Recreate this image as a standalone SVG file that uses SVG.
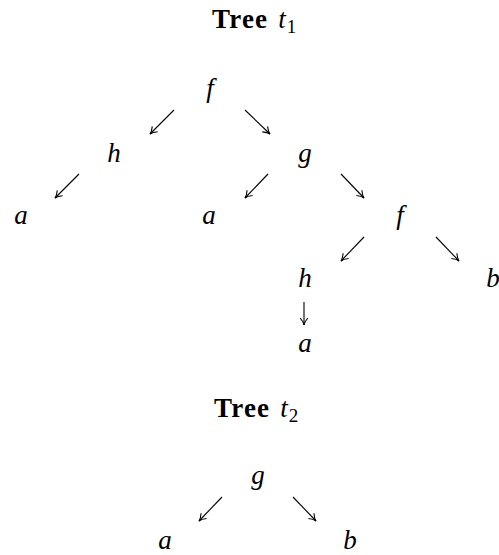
<svg xmlns="http://www.w3.org/2000/svg" width="499" height="555" viewBox="0 0 499 555">
<style>
.title{font-family:"Liberation Serif",serif;font-size:27px;font-weight:bold;fill:#000;letter-spacing:1.2px}
.it{font-style:italic;font-weight:normal;letter-spacing:0}
.sub{font-size:19px;font-weight:normal;letter-spacing:0}
.n{font-family:"Liberation Serif",serif;font-size:27px;font-style:italic;fill:#000;text-anchor:middle}
.e{stroke:#000;stroke-width:1.1;fill:none;marker-end:url(#ah)}
</style>
<defs>
<marker id="ah" viewBox="-8 -5 10 10" refX="0" refY="0" markerWidth="10" markerHeight="10" markerUnits="userSpaceOnUse" orient="auto">
<path d="M-7,-3.8 Q-3,-0.5 0,0 Q-3,0.5 -7,3.8" stroke="#000" stroke-width="1.1" fill="none"/>
</marker>
</defs>
<g id="title1"><text class="title" x="212" y="28">Tree <tspan class="it" dx="2">t</tspan><tspan class="sub" dx="1" dy="5">1</tspan></text></g>
<g id="title2"><text class="title" x="214" y="417">Tree <tspan class="it" dx="2">t</tspan><tspan class="sub" dx="1" dy="5">2</tspan></text></g>
<g id="t1_f"><text class="n" x="210" y="97">f</text></g>
<g id="t1_h"><text class="n" x="114" y="162">h</text></g>
<g id="t1_g"><text class="n" x="305" y="162">g</text></g>
<g id="t1_a1"><text class="n" x="21" y="224">a</text></g>
<g id="t1_a2"><text class="n" x="209" y="224">a</text></g>
<g id="t1_f2"><text class="n" x="400" y="224">f</text></g>
<g id="t1_h2"><text class="n" x="305" y="287">h</text></g>
<g id="t1_b"><text class="n" x="493" y="287">b</text></g>
<g id="t1_a3"><text class="n" x="305" y="352">a</text></g>
<g id="t2_g"><text class="n" x="258" y="484">g</text></g>
<g id="t2_a"><text class="n" x="165" y="549">a</text></g>
<g id="t2_b"><text class="n" x="350" y="549">b</text></g>
<g id="connectors">
<line class="e" x1="174" y1="110" x2="150" y2="134"/>
<line class="e" x1="245" y1="110" x2="270" y2="134"/>
<line class="e" x1="79" y1="174" x2="55" y2="198"/>
<line class="e" x1="268" y1="174" x2="245" y2="198"/>
<line class="e" x1="341" y1="174" x2="364" y2="198"/>
<line class="e" x1="364" y1="237" x2="341" y2="261"/>
<line class="e" x1="436" y1="237" x2="459" y2="261"/>
<line class="e" x1="304" y1="302" x2="304" y2="325"/>
<line class="e" x1="222" y1="497" x2="199" y2="521"/>
<line class="e" x1="293" y1="497" x2="316" y2="521"/>
</g>
</svg>
